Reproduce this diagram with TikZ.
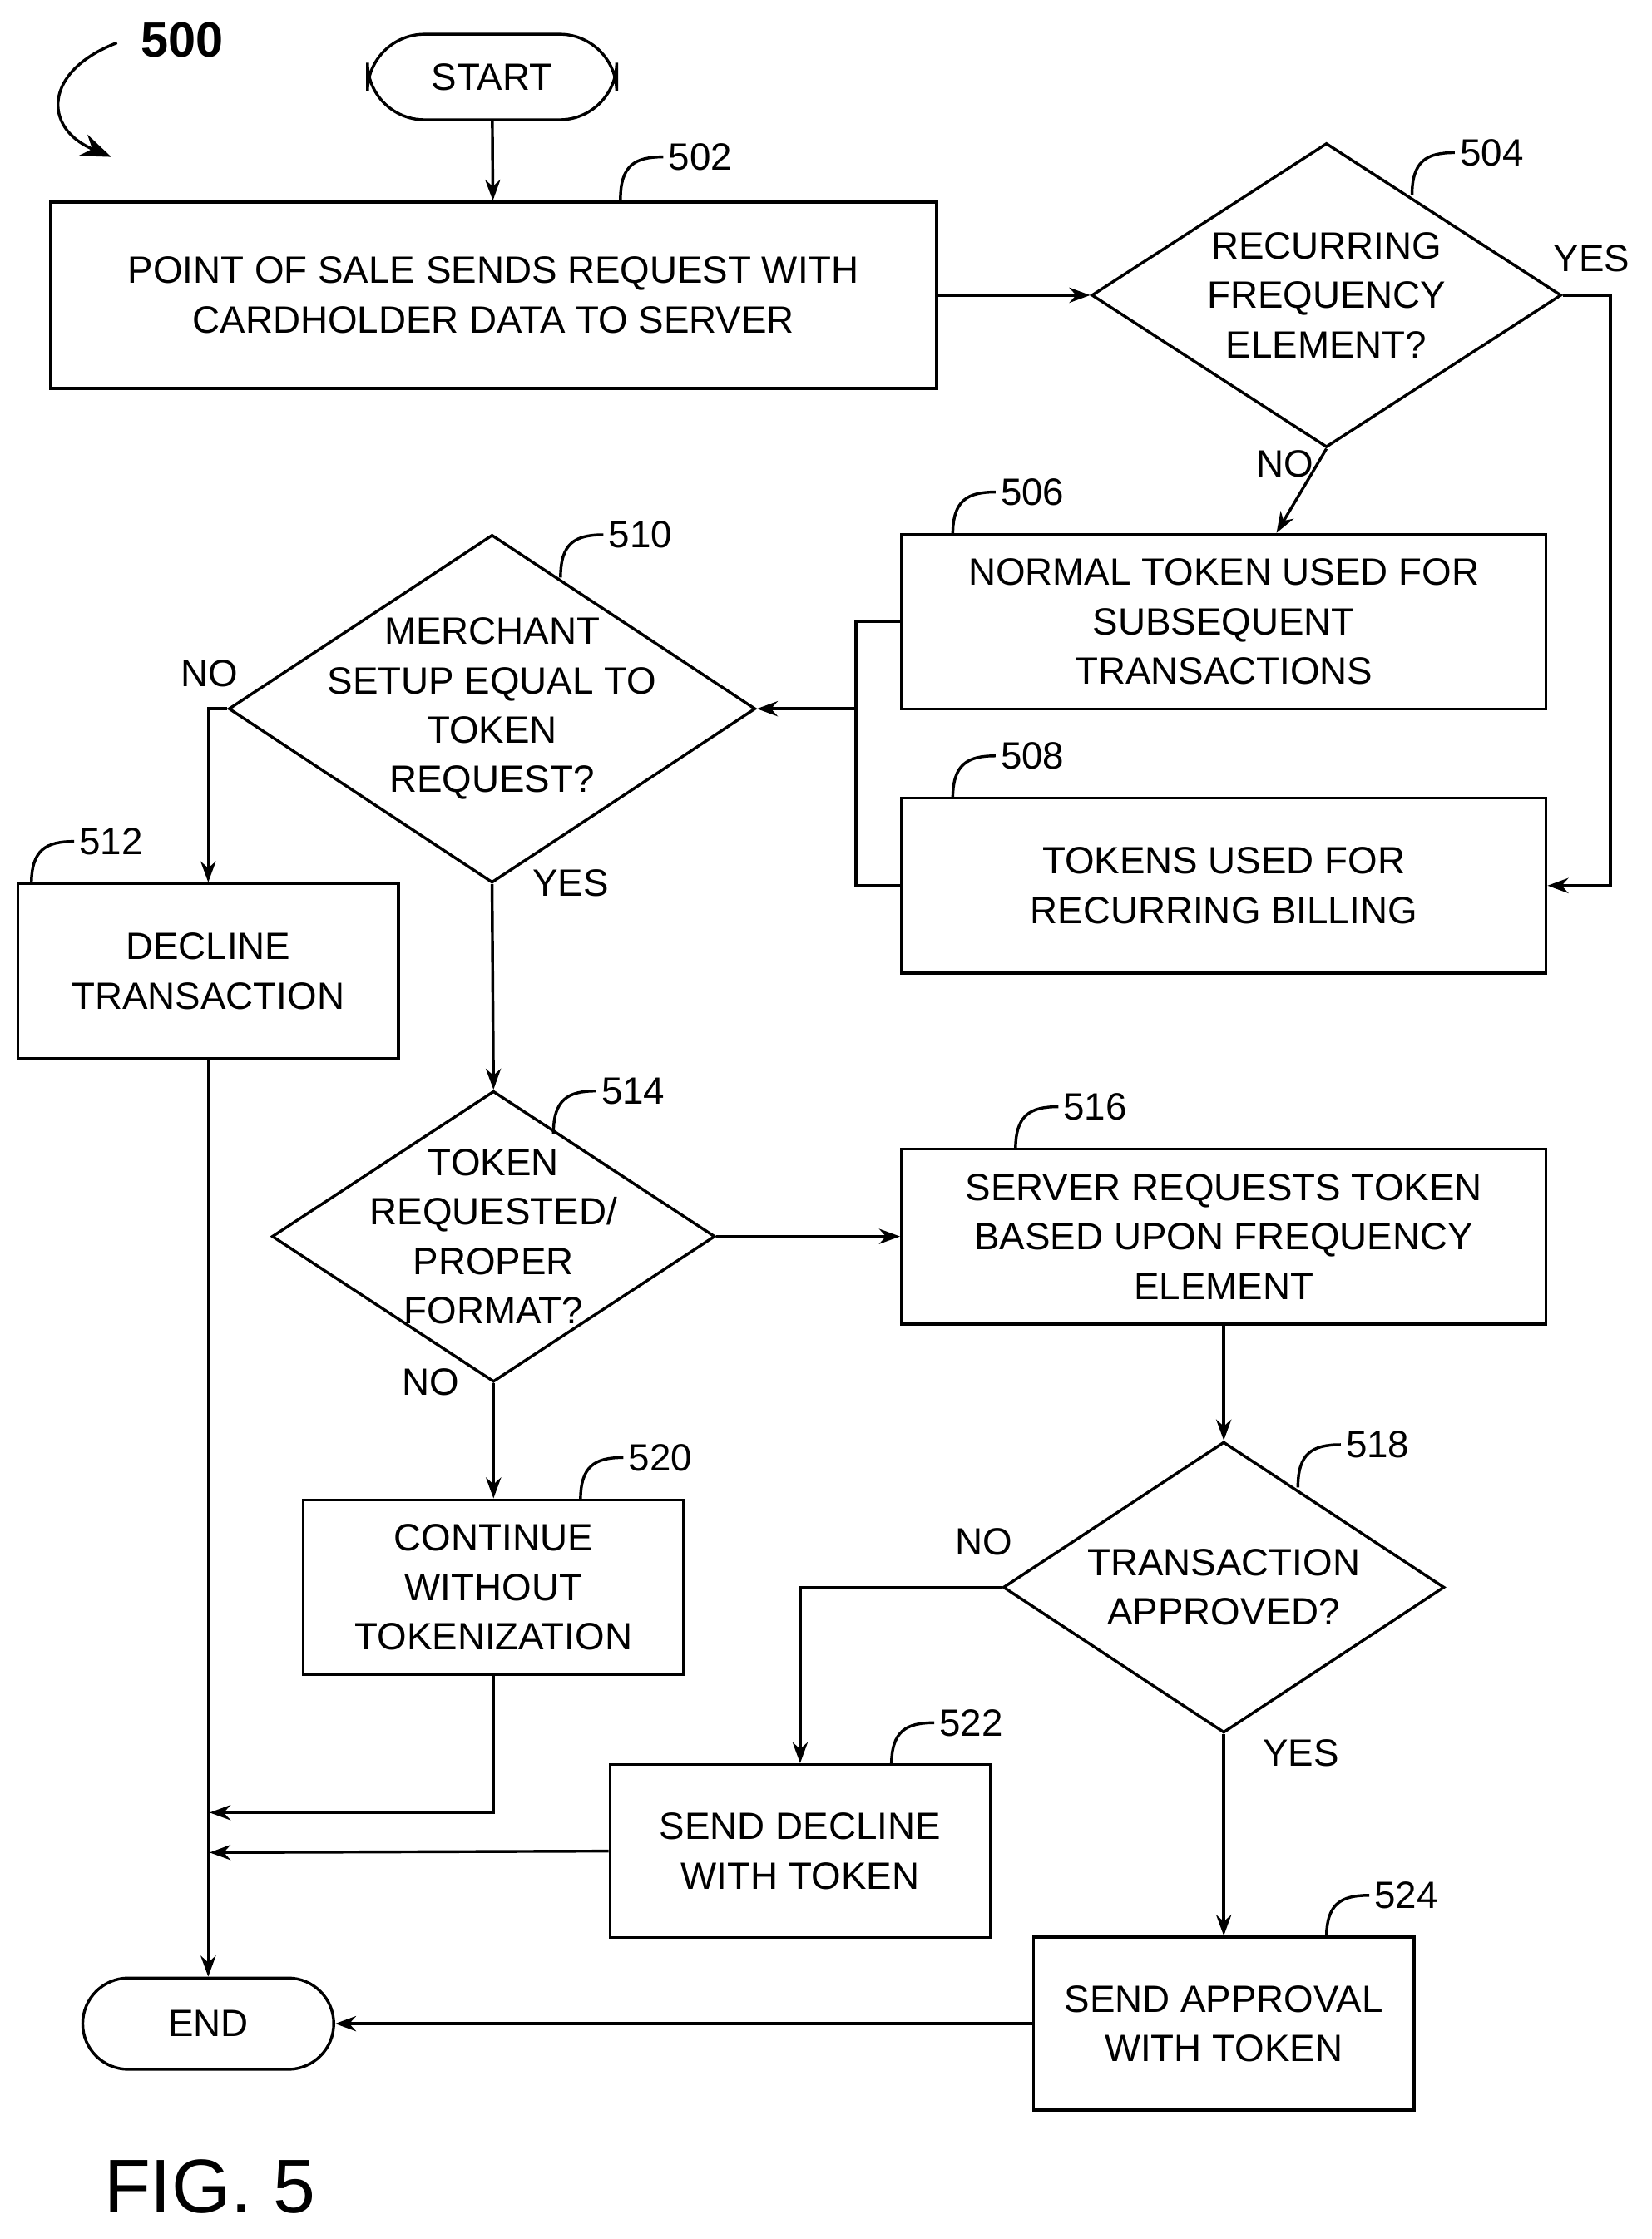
\documentclass[tikz,border=0pt]{standalone}
\usepackage{fontspec}
\setmainfont{Liberation Sans}
\usetikzlibrary{shapes.geometric,arrows.meta}
\begin{document}
\begin{tikzpicture}[x=0.75pt,y=-0.75pt,
 every node/.style={font=\fontsize{20}{26}\selectfont,align=center},
 ln/.style={line width=1.5pt},
 ar/.style={ln,-{Stealth[length=11pt,width=8pt]}},
 box/.style={draw,ln,rectangle,inner sep=0pt},
 term/.style={draw,ln,rounded corners=30pt,inner sep=0pt},
 dia/.style={draw,ln,diamond,inner sep=0pt},
 lab/.style={anchor=west,inner sep=2pt}]
\useasboundingbox (0,0) rectangle (1158,1570);
\newcommand{\refl}[3]{\draw[ln] (#1,#2) .. controls (#1,#2-24) and (#1+10,#2-30) .. (#1+30,#2-30) node[lab] (#3) {#3};}
% 500
\node[font=\bfseries\fontsize{26}{30}\selectfont] (n500) at (128,28) {500};
\draw[ln,-{Stealth[length=16pt,width=12pt]}] (82,30) .. controls (30,50) and (30,90) .. (78,110);
\node[term,minimum width=131pt,minimum height=45pt] (start) at (345,54) {START};
\node[box,minimum width=466pt,minimum height=98pt] (b502) at (346,207) {POINT OF SALE SENDS REQUEST WITH\\CARDHOLDER DATA TO SERVER};
\node[dia,minimum width=247pt,minimum height=160pt] (d504) at (930,207) {};
\node (t504) at (930,207) {RECURRING\\FREQUENCY\\ELEMENT?};
\node[box,minimum width=339pt,minimum height=92pt] (b506) at (858,436) {NORMAL TOKEN USED FOR\\SUBSEQUENT\\TRANSACTIONS};
\node[box,minimum width=339pt,minimum height=92pt] (b508) at (858,621) {TOKENS USED FOR\\RECURRING BILLING};
\node[dia,minimum width=277pt,minimum height=183pt] (d510) at (345,497) {};
\node (t510) at (345,497) {MERCHANT\\SETUP EQUAL TO\\TOKEN\\REQUEST?};
\node[box,minimum width=200pt,minimum height=92pt] (b512) at (146,681) {DECLINE\\TRANSACTION};
\node[dia,minimum width=233pt,minimum height=153pt] (d514) at (346,867) {};
\node (t514) at (346,867) {TOKEN\\REQUESTED/\\PROPER\\FORMAT?};
\node[box,minimum width=339pt,minimum height=92pt] (b516) at (858,867) {SERVER REQUESTS TOKEN\\BASED UPON FREQUENCY\\ELEMENT};
\node[dia,minimum width=232pt,minimum height=153pt] (d518) at (858,1113) {};
\node (t518) at (858,1113) {TRANSACTION\\APPROVED?};
\node[box,minimum width=200pt,minimum height=92pt] (b520) at (346,1113) {CONTINUE\\WITHOUT\\TOKENIZATION};
\node[box,minimum width=200pt,minimum height=91pt] (b522) at (561,1298) {SEND DECLINE\\WITH TOKEN};
\node[box,minimum width=200pt,minimum height=91pt] (b524) at (858,1419) {SEND APPROVAL\\WITH TOKEN};
\node[term,minimum width=132pt,minimum height=48pt,rounded corners=24pt] (end) at (146,1419) {END};
\node[font=\fontsize{40}{44}\selectfont] (fig) at (147,1533) {FIG. 5};
% yes/no
\node (y504) at (1116,181) {YES};
\node (n504) at (901,325) {NO};
\node (n510) at (147,472) {NO};
\node (y510) at (400,619) {YES};
\node (n514) at (302,969) {NO};
\node (n518) at (690,1081) {NO};
\node (y518) at (912,1229) {YES};
% refs
\refl{435}{140}{502}
\refl{990}{137}{504}
\refl{668}{375}{506}
\refl{668}{560}{508}
\refl{393}{405}{510}
\refl{22}{620}{512}
\refl{388}{795}{514}
\refl{712}{806}{516}
\refl{910}{1043}{518}
\refl{407}{1052}{520}
\refl{625}{1238}{522}
\refl{930}{1359}{524}
% connectors
\coordinate (m1) at (600,436);
\coordinate (m2) at (600,497);
\draw[ar] (start) -- (b502);
\draw[ar] (b502) -- (d504);
\draw[ar] (d504.south) -- (b506);
\draw[ar] (d504.east) -- (1129,207) |- (b508.east);
\draw[ln] (b506.west) -- (m1) |- (b508.west);
\draw[ar] (m2) -- (d510.east);
\draw[ar] (d510.west) -| (b512.north);
\draw[ar] (d510.south) -- (d514.north);
\draw[ar] (d514.east) -- (b516.west);
\draw[ar] (d514.south) -- (b520.north);
\draw[ar] (b516.south) -- (d518.north);
\draw[ar] (d518.west) -| (b522.north);
\draw[ar] (d518.south) -- (b524.north);
\draw[ar] (b512.south) -- (end.north);
\draw[ar] (b520.south) |- (147,1271);
\draw[ar] (b522.west) -- (147,1299);
\draw[ar] (b524.west) -- (end.east);
\end{tikzpicture}
\end{document}
